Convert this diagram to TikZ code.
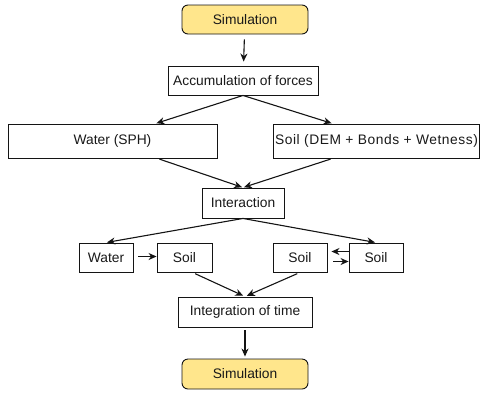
\documentclass[tikz,border=0pt]{standalone}
\usepackage{fontspec}
\setmainfont{Liberation Sans}
\usetikzlibrary{arrows.meta}
\definecolor{simfill}{RGB}{255,230,140}
\definecolor{edge}{RGB}{20,20,20}
\tikzset{
  box/.style={draw=edge, line width=0.9pt, fill=white, inner sep=0pt, font=\fontsize{13.8}{15}\selectfont, text=black!90},
  simbox/.style={box, fill=simfill, rounded corners=6pt},
  conn/.style={draw=edge, line width=1.1pt, -{Stealth[length=8pt,width=7pt,inset=2.5pt]}}
}
\begin{document}
\begin{tikzpicture}[x=1pt,y=-1pt]
\useasboundingbox (0,0) rectangle (481,392);
\node[simbox, minimum width=126pt, minimum height=29pt] (sim1) at (245,19.5) {Simulation};
\node[box, minimum width=150pt, minimum height=29pt] (acc) at (243,80.5) {Accumulation of forces};
\node[box, minimum width=209pt, minimum height=34pt] (water) at (112.5,141) {Water (SPH)};
\node[box, minimum width=206pt, minimum height=34pt] (soil) at (376.5,141) {\addfontfeature{LetterSpace=4}Soil (DEM + Bonds + Wetness)};
\node[box, minimum width=82pt, minimum height=30pt] (inter) at (243,203) {Interaction};
\node[box, minimum width=54pt, minimum height=29pt] (w2) at (106,257.5) {Water};
\node[box, minimum width=55pt, minimum height=29pt] (s1) at (184.5,257.5) {Soil};
\node[box, minimum width=54pt, minimum height=29pt] (s2) at (300,257.5) {Soil};
\node[box, minimum width=54pt, minimum height=29pt] (s3) at (376,257.5) {Soil};
\node[box, minimum width=134pt, minimum height=30pt] (integ) at (245,312) {Integration of time};
\node[simbox, minimum width=126pt, minimum height=30pt] (sim2) at (245,374) {Simulation};

\draw[conn, shorten <=5pt, shorten >=4pt] (sim1) -- (acc);
\draw[conn, shorten >=1pt] (acc.south) -- ([xshift=43pt]water.north);
\draw[conn, shorten >=1pt] (acc.south) -- ([xshift=-44pt]soil.north);
\draw[conn, shorten <=2pt, shorten >=1pt] ([xshift=45pt]water.south) -- (inter.north);
\draw[conn, shorten <=2pt, shorten >=1pt] ([xshift=-44pt]soil.south) -- (inter.north);
\draw[conn, shorten >=1pt] (inter.south) -- (w2.north);
\draw[conn, shorten >=1pt] (inter.south) -- (s3.north);
\draw[conn, shorten <=5pt] ([yshift=1pt]w2.east) -- ([yshift=1pt]s1.west);
\draw[conn, shorten >=4pt] ([yshift=6pt]s3.west) -- ([yshift=6pt]s2.east);
\draw[conn, shorten <=6pt] ([yshift=-4pt]s2.east) -- ([yshift=-4pt]s3.west);
\draw[conn, shorten <=3pt, shorten >=2pt] ([xshift=8pt]s1.south) -- (integ.north);
\draw[conn, shorten <=3pt, shorten >=2pt] (s2.south) -- (integ.north);
\draw[conn, shorten <=3pt, shorten >=2pt] (integ) -- (sim2);
\end{tikzpicture}
\end{document}
